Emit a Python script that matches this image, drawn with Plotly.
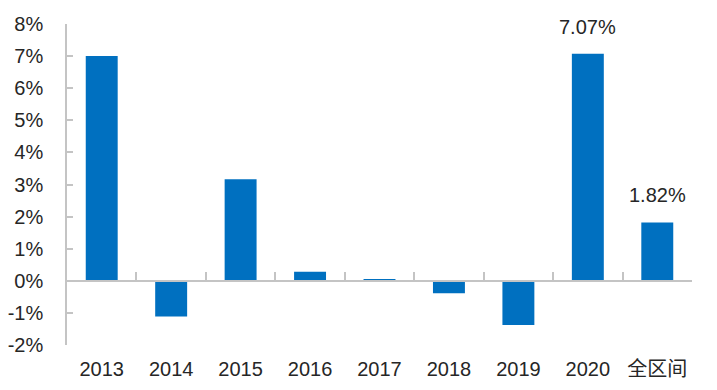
import plotly.graph_objects as go

categories = ["2013", "2014", "2015", "2016", "2017", "2018", "2019", "2020", "全区间"]
values = [7.00, -1.11, 3.16, 0.28, 0.05, -0.39, -1.38, 7.07, 1.82]
labelled = ["2020", "全区间"]
y_ticks = [-2, -1, 0, 1, 2, 3, 4, 5, 6, 7, 8]
y_ticktext = ["-2%", "-1%", "0%", "1%", "2%", "3%", "4%", "5%", "6%", "7%", "8%"]

FONT = "Liberation Sans, Arial, Noto Sans CJK SC, sans-serif"
AXIS_COLOR = "#c4c4c4"
TEXT_COLOR = "#262626"
FS = 20

fig = go.Figure()
fig.add_trace(go.Bar(x=categories, y=values, marker=dict(color="#0070C0", line=dict(width=0)),
                     xaxis="x", yaxis="y"))

for i, (c, v) in enumerate(zip(categories, values)):
    if c in labelled:
        fig.add_annotation(x=i, y=v, xref="x", yref="y", text=f"{v:.2f}%", showarrow=False,
                           yanchor="bottom", yshift=14,
                           font=dict(family=FONT, size=FS, color=TEXT_COLOR))

n = len(categories)
fig.update_layout(
    width=717, height=390,
    margin=dict(l=67, r=25, t=24, b=45, autoexpand=False),
    plot_bgcolor="white", paper_bgcolor="white",
    showlegend=False,
    bargap=0.54,
    font=dict(family=FONT, size=FS, color=TEXT_COLOR),
    xaxis=dict(type="category", categoryorder="array", categoryarray=categories,
               range=[-0.5, n - 0.5], showline=False, showgrid=False, zeroline=False,
               ticks="", ticklabelstandoff=10, automargin=False,
               tickfont=dict(family=FONT, size=FS, color=TEXT_COLOR)),
    xaxis2=dict(overlaying="x", anchor="free", position=0.2, side="bottom", type="linear",
                range=[-0.5, n - 0.5], tickvals=[i - 0.5 for i in range(n + 1)],
                showticklabels=False, ticks="inside", ticklen=8, tickcolor=AXIS_COLOR,
                tickwidth=1.5, showline=True, linecolor=AXIS_COLOR, linewidth=1.5,
                showgrid=False, zeroline=False, automargin=False),
    yaxis=dict(range=[-2, 8], tickvals=y_ticks, ticktext=y_ticktext, showgrid=False,
               zeroline=False, showline=True, linecolor=AXIS_COLOR, linewidth=1.5,
               ticks="inside", ticklen=6, tickcolor=AXIS_COLOR, tickwidth=1.5,
               ticklabelstandoff=18, automargin=False,
               tickfont=dict(family=FONT, size=FS, color=TEXT_COLOR)),
)
# invisible trace to activate xaxis2
fig.add_trace(go.Scatter(x=[0], y=[0], xaxis="x2", yaxis="y", mode="markers",
                         marker=dict(opacity=0), hoverinfo="skip"))

fig.write_html("out.html", config={"displayModeBar": False},
               post_script="document.body.style.margin='0';")
